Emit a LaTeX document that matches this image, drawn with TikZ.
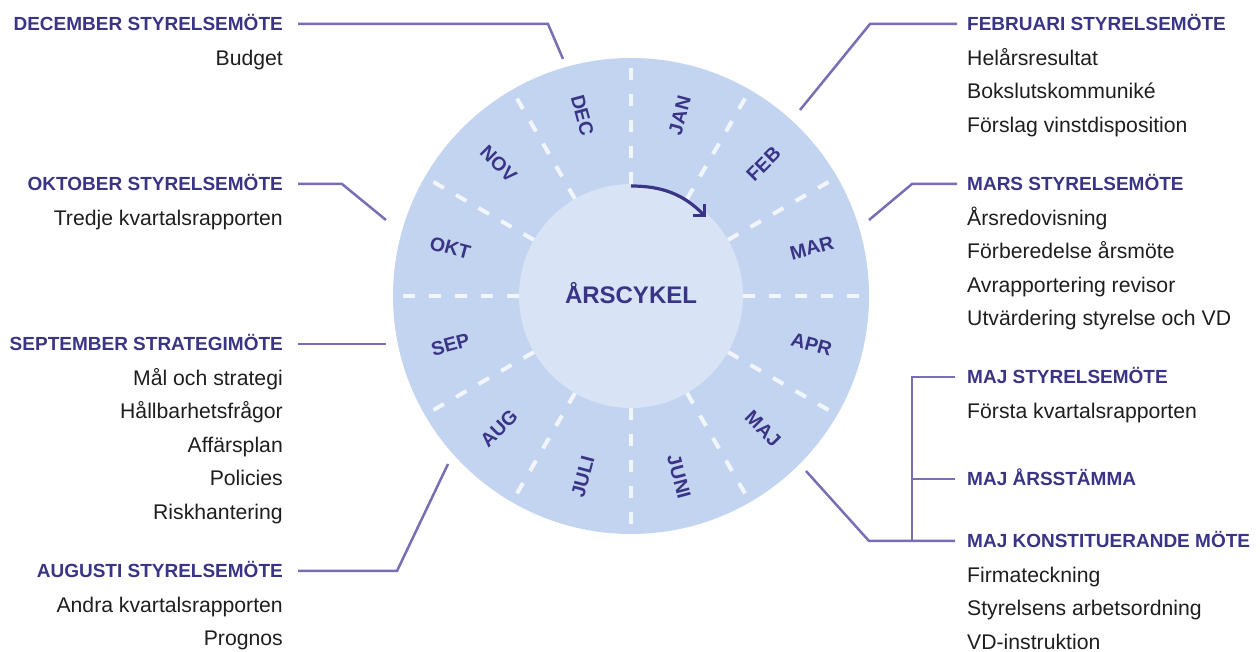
\documentclass[tikz,border=0pt]{standalone}
\usepackage{fontspec}
\setmainfont{Liberation Sans}
\usetikzlibrary{arrows.meta}
\definecolor{ringc}{HTML}{C2D4EF}
\definecolor{innerc}{HTML}{D8E3F5}
\definecolor{dashc}{HTML}{F2F6FC}
\definecolor{purp}{HTML}{3A3487}
\definecolor{linec}{HTML}{7B6DB5}
\definecolor{bodyc}{HTML}{1E1E1E}
\begin{document}
\begin{tikzpicture}[x=1pt,y=1pt,
  head/.style={font=\fontsize{19}{21}\selectfont\bfseries, text=purp, inner sep=0pt, text height=13.6pt, text depth=0pt},
  bodyl/.style={font=\fontsize{21.2}{24}\selectfont, text=bodyc, inner sep=0pt, text height=15.2pt, text depth=0pt},
  lefttxt/.style={anchor=east},
  righttxt/.style={anchor=west},
  mon/.style={font=\fontsize{19.5}{21}\selectfont\bfseries, text=purp, inner sep=0pt, text height=14pt, text depth=0pt},
  conn/.style={draw=linec, line width=2.5pt},
  dashline/.style={draw=dashc, line width=4pt, dash pattern=on 12pt off 14pt}]
\useasboundingbox (0,0) rectangle (1260,652);

% wheel
\node[circle, fill=ringc, minimum size=476pt, inner sep=0pt] (wheel) at (631,356) {};
\begin{scope}[shift={(631,356)}]
  \foreach \a in {90,60,30,0,-30,-60,-90,-120,-150,180,150,120}
    \draw[dashline] (\a:112) -- (\a:238);
\end{scope}
\node[circle, fill=innerc, minimum size=224pt, inner sep=0pt] (hub) at (631,356) {};
\node[font=\fontsize{24}{26}\selectfont\bfseries, text=purp, inner sep=0pt, text height=17.2pt, text depth=0pt] (hubtxt) at (631,357) {ÅRSCYKEL};

\begin{scope}[shift={(631,356)}]
  \node[mon, rotate=75]  (m1)  at (75:187)   {JAN};
  \node[mon, rotate=45]  (m2)  at (45:187)   {FEB};
  \node[mon, rotate=15]  (m3)  at (15:187)   {MAR};
  \node[mon, rotate=-15] (m4)  at (-15:187)  {APR};
  \node[mon, rotate=-45] (m5)  at (-45:187)  {MAJ};
  \node[mon, rotate=-75] (m6)  at (-75:187)  {JUNI};
  \node[mon, rotate=75]  (m7)  at (-105:187) {JULI};
  \node[mon, rotate=45]  (m8)  at (-135:187) {AUG};
  \node[mon, rotate=15]  (m9)  at (-165:187) {SEP};
  \node[mon, rotate=-15] (m10) at (165:187)  {OKT};
  \node[mon, rotate=-45] (m11) at (135:187)  {NOV};
  \node[mon, rotate=-75] (m12) at (105:187)  {DEC};
  \coordinate (arrS) at (0,110);
  \coordinate (arrE) at (75,79);
\end{scope}
\draw[draw=purp, line width=3.2pt, -{Straight Barb[angle=90:11pt]}] (arrS) to[out=0, in=135] (arrE);

% left column
\node[head, lefttxt] (hdec) at (283,628) {DECEMBER STYRELSEMÖTE};
\node[bodyl, lefttxt] (bdec1) at (283,594.5) {Budget};

\node[head, lefttxt] (hokt) at (283,468) {OKTOBER STYRELSEMÖTE};
\node[bodyl, lefttxt] (bokt1) at (283,434.5) {Tredje kvartalsrapporten};

\node[head, lefttxt] (hsep) at (283,308) {SEPTEMBER STRATEGIMÖTE};
\node[bodyl, lefttxt] (bsep1) at (283,274.5) {Mål och strategi};
\node[bodyl, lefttxt] (bsep2) at (283,241) {Hållbarhetsfrågor};
\node[bodyl, lefttxt] (bsep3) at (283,207.5) {Affärsplan};
\node[bodyl, lefttxt] (bsep4) at (283,174) {Policies};
\node[bodyl, lefttxt] (bsep5) at (283,140.5) {Riskhantering};

\node[head, lefttxt] (haug) at (283,81) {AUGUSTI STYRELSEMÖTE};
\node[bodyl, lefttxt] (baug1) at (283,47.5) {Andra kvartalsrapporten};
\node[bodyl, lefttxt] (baug2) at (283,14) {Prognos};

% right column
\node[head, righttxt] (hfeb) at (967,628) {FEBRUARI STYRELSEMÖTE};
\node[bodyl, righttxt] (bfeb1) at (967,594.5) {Helårsresultat};
\node[bodyl, righttxt] (bfeb2) at (967,561) {Bokslutskommuniké};
\node[bodyl, righttxt] (bfeb3) at (967,527.5) {Förslag vinstdisposition};

\node[head, righttxt] (hmar) at (967,468) {MARS STYRELSEMÖTE};
\node[bodyl, righttxt] (bmar1) at (967,434.5) {Årsredovisning};
\node[bodyl, righttxt] (bmar2) at (967,401) {Förberedelse årsmöte};
\node[bodyl, righttxt] (bmar3) at (967,367.5) {Avrapportering revisor};
\node[bodyl, righttxt] (bmar4) at (967,334) {Utvärdering styrelse och VD};

\node[head, righttxt] (hmajs) at (967,275) {MAJ STYRELSEMÖTE};
\node[bodyl, righttxt] (bmajs1) at (967,241.5) {Första kvartalsrapporten};

\node[head, righttxt] (hmaja) at (967,173) {MAJ ÅRSSTÄMMA};

\node[head, righttxt] (hmajk) at (967,111) {MAJ KONSTITUERANDE MÖTE};
\node[bodyl, righttxt] (bmajk1) at (967,77.5) {Firmateckning};
\node[bodyl, righttxt] (bmajk2) at (967,44) {Styrelsens arbetsordning};
\node[bodyl, righttxt] (bmajk3) at (967,10.5) {VD-instruktion};

% connector points
\coordinate (decb) at (548,628);
\coordinate (dece) at (563,593);
\coordinate (oktb) at (342,468);
\coordinate (okte) at (386,432);
\coordinate (sepe) at (386,308);
\coordinate (augb) at (397,81);
\coordinate (auge) at (448,188);
\coordinate (febb) at (870,628);
\coordinate (febe) at (800,542);
\coordinate (marb) at (912,468);
\coordinate (mare) at (869,432);
\coordinate (majtop) at (912,275);
\coordinate (majmid) at (912,173);
\coordinate (majbot) at (912,111);
\coordinate (majb) at (869,111);
\coordinate (maje) at (806,181);

% connectors
\draw[conn] ([xshift=15pt]hdec.east) -- (decb) -- (dece);
\draw[conn] ([xshift=15pt]hokt.east) -- (oktb) -- (okte);
\draw[conn] ([xshift=15pt]hsep.east) -- (sepe);
\draw[conn] ([xshift=15pt]haug.east) -- (augb) -- (auge);
\draw[conn] ([xshift=-10pt]hfeb.west) -- (febb) -- (febe);
\draw[conn] ([xshift=-10pt]hmar.west) -- (marb) -- (mare);
\draw[conn] ([xshift=-12pt]hmajs.west) -- (majtop) -- (majbot);
\draw[conn] (majmid) -- ([xshift=-12pt]hmaja.west);
\draw[conn] (maje) -- (majb) -- ([xshift=-12pt]hmajk.west);
\end{tikzpicture}
\end{document}
